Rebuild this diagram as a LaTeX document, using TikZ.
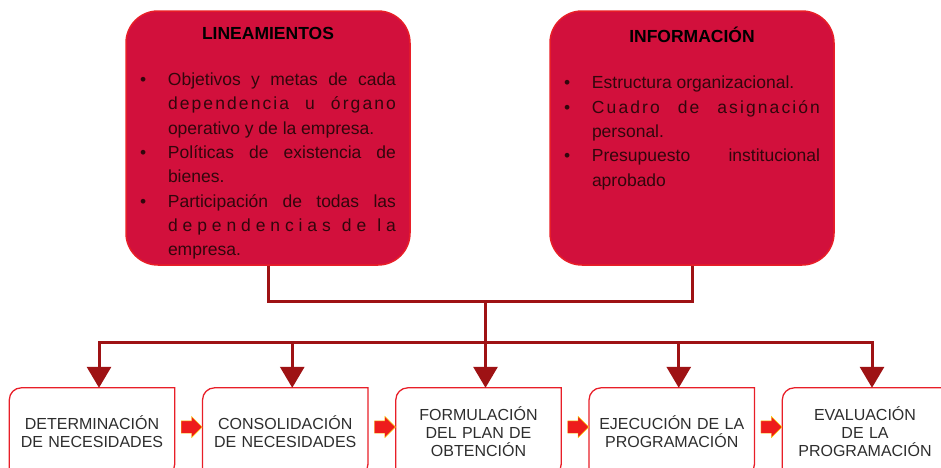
\documentclass[tikz,border=0pt]{standalone}
\usepackage{fontspec}
\setmainfont{Liberation Sans}
\usetikzlibrary{shapes,arrows,arrows.meta,positioning,calc}

\definecolor{carmesi}{RGB}{210,16,60}
\definecolor{bordeRojo}{RGB}{232,30,40}
\definecolor{granate}{RGB}{158,18,20}
\definecolor{textoPanel}{RGB}{50,6,12}
\definecolor{textoPaso}{RGB}{45,45,45}
\definecolor{flechaRoja}{RGB}{238,28,28}

\newcommand{\vineta}[1]{\par\noindent\hangindent=28pt\hangafter=1\makebox[28pt][l]{\textbullet}#1\par}
\newcommand{\espaciado}[2]{{\addfontfeature{LetterSpace=#1}#2}}
\newcommand{\contenido}[2]{\begin{minipage}[t][234pt][t]{256pt}\fontsize{17.5}{24.3}\selectfont
    \vspace*{6pt}{\centering\bfseries\color{black}#1\par}\vspace{22pt}#2\end{minipage}}

\tikzstyle{panel} = [rectangle, draw=bordeRojo, line width=1.5pt, fill=carmesi,
    text=textoPanel, rounded corners=32pt, minimum width=284pt, minimum height=254pt, inner sep=0pt]
\tikzstyle{paso} = [rectangle, text=textoPaso, text width=160pt, align=center,
    minimum width=165pt, minimum height=88pt, inner sep=0pt, font=\fontsize{16}{18}\selectfont]
\tikzstyle{borde} = [draw=bordeRojo, line width=1.3pt]
\tikzstyle{line} = [draw=granate, line width=3pt]
\tikzstyle{bajada} = [line, -{Triangle[width=24pt,length=21pt]}]
\tikzstyle{flechita} = [single arrow, fill=flechaRoja, draw=yellow!70!orange, line width=0.4pt,
    minimum height=21pt, inner xsep=0pt, inner ysep=6pt, single arrow head extend=4.5pt]

\begin{document}
\begin{tikzpicture}[x=1pt, y=1pt, node distance=193.25pt]
    \useasboundingbox (0,0) rectangle (941,-467);
    \clip (0,0) rectangle (941,-467);
    % Place nodes

    \node [panel] (lineamientos) at (268,-138) {\contenido{LINEAMIENTOS}{%
        \vineta{Objetivos y metas de cada\linebreak \espaciado{12}{dependencia u órgano}\linebreak operativo y de la empresa.}
        \vineta{Políticas de existencia de\linebreak bienes.}
        \vineta{Participación de todas las\linebreak \espaciado{28}{dependencias de la}\linebreak empresa.}}};
    \node [panel, right of=lineamientos, node distance=424pt] (informacion) {\contenido{INFORMACIÓN}{%
        \vineta{Estructura organizacional.}
        \vineta{\espaciado{12}{Cuadro de asignación}\linebreak personal.}
        \vineta{Presupuesto institucional\linebreak aprobado}}};
    \node [paso] (determinacion) at (92,-432) {DETERMINACIÓN\\DE NECESIDADES};
    \node [paso, right of=determinacion] (consolidacion) {CONSOLIDACIÓN\\DE NECESIDADES};
    \node [paso, right of=consolidacion] (formulacion) {FORMULACIÓN\\DEL PLAN DE\\OBTENCIÓN};
    \node [paso, right of=formulacion] (ejecucion) {EJECUCIÓN DE LA\\PROGRAMACIÓN};
    \node [paso, right of=ejecucion] (evaluacion) {EVALUACIÓN\\DE LA\\PROGRAMACIÓN};
    \coordinate (union) at (485.5,-301);
    \coordinate (reparto) at (485.5,-342);

    \foreach \n in {determinacion,consolidacion,formulacion,ejecucion,evaluacion}
        \draw [borde] (\n.south west) -- ([yshift=-12pt]\n.north west)
            arc [start angle=180, end angle=90, radius=12pt] -- (\n.north east)
            -- ([yshift=12pt]\n.south east) arc [start angle=0, end angle=-90, radius=12pt] -- cycle;

    \node [flechita] (flecha1) at ($(determinacion.east)!0.5!(consolidacion.west)+(0,5)$) {};
    \node [flechita] (flecha2) at ($(consolidacion.east)!0.5!(formulacion.west)+(0,5)$) {};
    \node [flechita] (flecha3) at ($(formulacion.east)!0.5!(ejecucion.west)+(0,5)$) {};
    \node [flechita] (flecha4) at ($(ejecucion.east)!0.5!(evaluacion.west)+(0,5)$) {};

    \path [line] (lineamientos.south) |- (union) -| (informacion.south);
    \path [line] (union) -- (reparto);
    \foreach \n in {determinacion,consolidacion,formulacion,ejecucion,evaluacion}
        \path [bajada] (reparto) -| ([xshift=7pt]\n.north);
\end{tikzpicture}
\end{document}
